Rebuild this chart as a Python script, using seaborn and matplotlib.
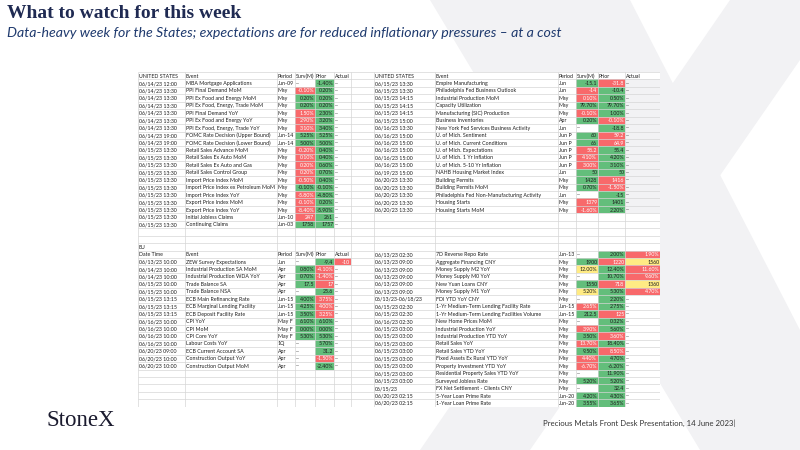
import numpy as np
import matplotlib.pyplot as plt
import seaborn as sns
from matplotlib.colors import ListedColormap
from matplotlib.patches import Polygon

# ---- United States, first block (left table) ----
us1_dates = (['06/14/23 12:00'] + ['06/14/23 13:30'] * 6 + ['06/14/23 19:00'] * 2
             + ['06/15/23 13:30'] * 11)
us1_events = ['MBA Mortgage Applications', 'PPI Final Demand MoM', 'PPI Ex Food and Energy MoM',
              'PPI Ex Food, Energy, Trade MoM', 'PPI Final Demand YoY', 'PPI Ex Food and Energy YoY',
              'PPI Ex Food, Energy, Trade YoY', 'FOMC Rate Decision (Upper Bound)',
              'FOMC Rate Decision (Lower Bound)', 'Retail Sales Advance MoM', 'Retail Sales Ex Auto MoM',
              'Retail Sales Ex Auto and Gas', 'Retail Sales Control Group', 'Import Price Index MoM',
              'Import Price Index ex Petroleum MoM', 'Import Price Index YoY', 'Export Price Index MoM',
              'Export Price Index YoY', 'Initial Jobless Claims', 'Continuing Claims']
us1_periods = ['Jun-09'] + ['May'] * 6 + ['Jun-14'] * 2 + ['May'] * 9 + ['Jun-10', 'Jun-03']
us1_surv = ['--', '-0.10%', '0.20%', '0.20%', '1.50%', '2.90%', '3.10%', '5.25%', '5.00%', '-0.20%',
            '0.10%', '0.20%', '0.20%', '-0.50%', '-0.10%', '-5.80%', '-0.10%', '-8.40%', '247', '1758']
us1_surv_col = 'wrggrrrggrrrrrgrrrrg'
us1_prior = ['-1.40%', '0.20%', '0.20%', '0.20%', '2.30%', '3.20%', '3.40%', '5.25%', '5.00%', '0.40%',
             '0.40%', '0.60%', '0.70%', '0.40%', '-0.10%', '-4.80%', '0.20%', '-5.90%', '261', '1757']
us1_prior_col = 'g' * 20
us1_actual = ['--'] * 20
us1_actual_col = 'w' * 20

# ---- United States, second block (right table) ----
us2_dates = (['06/15/23 13:30'] * 2 + ['06/15/23 14:15'] * 3 + ['06/15/23 15:00', '06/16/23 13:30']
             + ['06/16/23 15:00'] * 5 + ['06/19/23 15:00'] + ['06/20/23 13:30'] * 5)
us2_events = ['Empire Manufacturing', 'Philadelphia Fed Business Outlook', 'Industrial Production MoM',
              'Capacity Utilization', 'Manufacturing (SIC) Production', 'Business Inventories',
              'New York Fed Services Business Activity', 'U. of Mich. Sentiment',
              'U. of Mich. Current Conditions', 'U. of Mich. Expectations', 'U. of Mich. 1 Yr Inflation',
              'U. of Mich. 5-10 Yr Inflation', 'NAHB Housing Market Index', 'Building Permits',
              'Building Permits MoM', 'Philadelphia Fed Non-Manufacturing Activity', 'Housing Starts',
              'Housing Starts MoM']
us2_periods = (['Jun', 'Jun', 'May', 'May', 'May', 'Apr', 'Jun'] + ['Jun P'] * 5
               + ['Jun', 'May', 'May', 'Jun', 'May', 'May'])
us2_surv = ['-15.1', '-14', '0.10%', '79.70%', '-0.10%', '0.20%', '--', '60', '66', '58.2', '4.10%',
            '3.00%', '50', '1428', '0.70%', '--', '1379', '-1.60%']
us2_surv_col = 'grrgrgwggrrrgggwrr'
us2_prior = ['-31.8', '-10.4', '0.50%', '79.70%', '1.00%', '-0.10%', '-18.8', '59.2', '64.9', '55.4',
             '4.20%', '3.10%', '50', '1416', '-1.50%', '-15', '1401', '2.20%']
us2_prior_col = 'rggggrgrrggggrrggg'
us2_actual = ['--'] * 18
us2_actual_col = 'm' * 18

# ---- EU ----
eu_dates = (['06/13/23 10:00', '06/14/23 10:00', '06/14/23 10:00', '06/15/23 10:00', '06/15/23 10:00']
            + ['06/15/23 13:15'] * 3 + ['06/16/23 10:00'] * 4 + ['06/20/23 09:00']
            + ['06/20/23 10:00'] * 2)
eu_events = ['ZEW Survey Expectations', 'Industrial Production SA MoM', 'Industrial Production WDA YoY',
             'Trade Balance SA', 'Trade Balance NSA', 'ECB Main Refinancing Rate',
             'ECB Marginal Lending Facility', 'ECB Deposit Facility Rate', 'CPI YoY', 'CPI MoM',
             'CPI Core YoY', 'Labour Costs YoY', 'ECB Current Account SA', 'Construction Output YoY',
             'Construction Output MoM']
eu_periods = ['Jun', 'Apr', 'Apr', 'Apr', 'Apr'] + ['Jun-15'] * 3 + ['May F'] * 3 + ['1Q', 'Apr', 'Apr', 'Apr']
eu_surv = ['--', '0.80%', '0.70%', '17.5', '--', '4.00%', '4.25%', '3.50%', '6.10%', '0.00%', '5.30%',
           '--', '--', '--', '--']
eu_surv_col = 'wgggwggggggwwww'
eu_prior = ['-9.4', '-4.10%', '-1.40%', '17', '25.6', '3.75%', '4.00%', '3.25%', '6.10%', '0.00%',
            '5.30%', '5.70%', '31.2', '-1.50%', '-2.40%']
eu_prior_col = 'grrrgrrrgggggrg'
eu_actual = ['-10'] + ['--'] * 14
eu_actual_col = 'r' + 'w' * 14

# ---- China ----
cn_dates = (['06/13/23 02:30'] + ['06/13/23 09:00'] * 5 + ['06/13/23-06/18/23']
            + ['06/15/23 02:30'] * 2 + ['06/16/23 02:30'] + ['06/15/23 03:00'] * 8
            + ['06/15/23'] + ['06/20/23 02:15'] * 2)
cn_events = ['7D Reverse Repo Rate', 'Aggregate Financing CNY', 'Money Supply M2 YoY', 'Money Supply M0 YoY',
             'New Yuan Loans CNY', 'Money Supply M1 YoY', 'FDI YTD YoY CNY',
             '1-Yr Medium-Term Lending Facility Rate', '1-Yr Medium-Term Lending Facilities Volume',
             'New Home Prices MoM', 'Industrial Production YoY', 'Industrial Production YTD YoY',
             'Retail Sales YoY', 'Retail Sales YTD YoY', 'Fixed Assets Ex Rural YTD YoY',
             'Property Investment YTD YoY', 'Residential Property Sales YTD YoY', 'Surveyed Jobless Rate',
             'FX Net Settlement - Clients CNY', '5-Year Loan Prime Rate', '1-Year Loan Prime Rate']
cn_periods = ['Jun-13'] + ['May'] * 6 + ['Jun-15'] * 2 + ['May'] * 10 + ['Jun-20'] * 2
cn_surv = ['--', '1900', '12.00%', '--', '1550', '5.20%', '--', '2.65%', '212.5', '--', '3.90%', '3.50%',
           '13.70%', '9.50%', '4.40%', '-6.70%', '--', '5.20%', '--', '4.20%', '3.55%']
cn_surv_col = 'wgywgywrgwrgrgrrwgwgg'
cn_prior = ['2.00%', '1220', '12.40%', '10.70%', '718', '5.30%', '2.20%', '2.75%', '125', '0.32%', '5.60%',
            '3.60%', '18.40%', '8.50%', '4.70%', '-6.20%', '11.90%', '5.20%', '32.4', '4.30%', '3.65%']
cn_prior_col = 'grggrgggrggrgrggggggg'
cn_actual = ['1.90%', '1560', '11.60%', '9.60%', '1360', '4.70%'] + ['--'] * 15
cn_actual_col = 'ryrryr' + 'w' * 15

header = ['Event', 'Period', 'Surv(M)', 'Prior', 'Actual']

# layout of the sheet picture (pixels)
col_edges = [138, 185, 277, 295, 315, 334, 351, 374, 435, 558, 576, 598, 625, 660]
n_rows = 45
top, bottom = 72, 406.8
X0 = col_edges[0]
code_of = {'w': 0, 'g': 1, 'r': 2, 'y': 3, 'm': 4}
palette = ['#FFFFFF', '#63BE7B', '#F8696B', '#FFEB84', '#F2F2F4']
cell_fs = 3.75

sns.set_style('white')
plt.rcParams['font.family'] = ['Lato', 'DejaVu Sans']

fig = plt.figure(figsize=(8, 4.5), dpi=100)
bg = fig.add_axes([0, 0, 1, 1])
bg.set_xlim(0, 800)
bg.set_ylim(450, 0)
bg.axis('off')

# faint StoneX "X" watermark
wm = '#F2F2F4'
bg.add_patch(Polygon([(430, 0), (630, 0), (800, 330), (800, 450), (700, 450)], color=wm, lw=0))
bg.add_patch(Polygon([(730, 0), (800, 0), (800, 60), (530, 450), (420, 450)], color=wm, lw=0))

bg.text(7, 14, 'What to watch for this week', family='Liberation Serif', fontweight='bold',
        fontsize=14, color='#1F2A52', va='center')
bg.text(7, 33, 'Data-heavy week for the States; expectations are for reduced inflationary pressures – at a cost',
        fontsize=10.2, style='italic', color='#1F3A6E', va='center')
bg.text(47, 421, 'StoneX', family='Liberation Serif', fontsize=16.5, color='#1B1B2F', va='center')
bg.text(735, 423, 'Precious Metals Front Desk Presentation, 14 June 2023|', ha='right', va='center',
        fontsize=5.6, color='#333333')

# cell colour codes -> seaborn heatmap on a pixel-wide grid
cells = np.zeros((n_rows, len(col_edges) - 1), dtype=int)
texts = []  # (row, col, string)


def add_block(row0, col0, dates, events, periods, surv, sc, prior, pc, actual, ac):
    for i in range(len(dates)):
        r = row0 + i
        for j, s in enumerate([dates[i], events[i], periods[i], surv[i], prior[i], actual[i]]):
            texts.append((r, col0 + j, s))
        cells[r, col0 + 3] = code_of[sc[i]]
        cells[r, col0 + 4] = code_of[pc[i]]
        cells[r, col0 + 5] = code_of[ac[i]]


for j, s in enumerate(['UNITED STATES'] + header):
    texts.append((0, j, s))
    texts.append((0, 7 + j, s))
for j, s in enumerate(['Date Time'] + header):
    texts.append((24, j, s))
texts.append((23, 0, 'EU'))

add_block(1, 0, us1_dates, us1_events, us1_periods, us1_surv, us1_surv_col, us1_prior, us1_prior_col,
          us1_actual, us1_actual_col)
add_block(1, 7, us2_dates, us2_events, us2_periods, us2_surv, us2_surv_col, us2_prior, us2_prior_col,
          us2_actual, us2_actual_col)
add_block(25, 0, eu_dates, eu_events, eu_periods, eu_surv, eu_surv_col, eu_prior, eu_prior_col,
          eu_actual, eu_actual_col)
add_block(24, 7, cn_dates, cn_events, cn_periods, cn_surv, cn_surv_col, cn_prior, cn_prior_col,
          cn_actual, cn_actual_col)

W = col_edges[-1] - X0
tab = fig.add_axes([X0 / 800, 1 - bottom / 450, W / 800, (bottom - top) / 450])
grid = np.repeat(cells, np.diff(col_edges), axis=1)
sns.heatmap(grid, ax=tab, cmap=ListedColormap(palette), vmin=-0.5, vmax=4.5, cbar=False,
            xticklabels=False, yticklabels=False)
tab.hlines(np.arange(n_rows + 1), 0, W, colors='#D6D6D6', lw=0.5)
tab.vlines(np.array(col_edges) - X0, 0, n_rows, colors='#D6D6D6', lw=0.5)

num_cols = {3, 4, 5, 10, 11, 12}
for r, c, s in texts:
    left, right = col_edges[c] - X0, col_edges[c + 1] - X0
    is_header = r in (0, 24) and not (r == 24 and c >= 7)
    right_align = not is_header and ((c in num_cols and s != '--') or (c in (2, 9) and '-' in s))
    color = '#FFFFFF' if cells[r, c] == 2 else '#1E1E1E'
    if right_align:
        tab.text(right - 0.8, r + 0.55, s, ha='right', va='center', fontsize=cell_fs, color=color)
    else:
        tab.text(left + 0.9, r + 0.55, s, ha='left', va='center', fontsize=cell_fs, color=color)

fig.savefig('out.png', dpi=100)
